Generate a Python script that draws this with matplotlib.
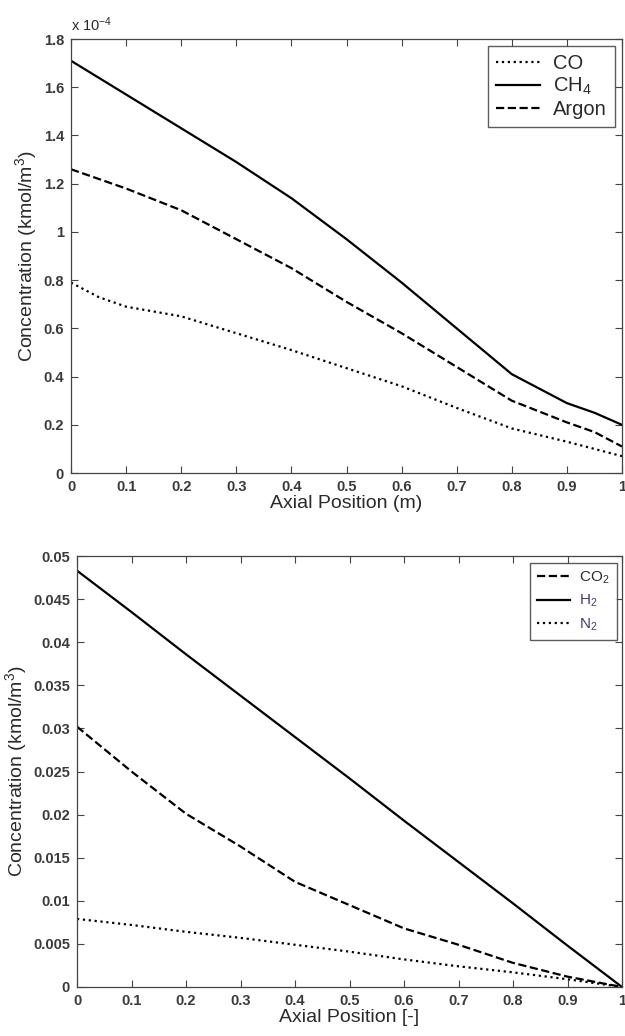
import numpy as np
import matplotlib.pyplot as plt
from matplotlib.ticker import FuncFormatter, MultipleLocator

plt.rcParams['font.family'] = ['Liberation Sans', 'DejaVu Sans']
plt.rcParams['mathtext.fontset'] = 'custom'
plt.rcParams['mathtext.rm'] = 'Liberation Sans'
plt.rcParams['mathtext.it'] = 'Liberation Sans'

# axial positions (m) for the reactor profiles
z_top = [0, 0.05, 0.1, 0.2, 0.3, 0.4, 0.5, 0.6, 0.7, 0.8, 0.9, 0.95, 1.0]
co = [0.79e-4, 0.73e-4, 0.69e-4, 0.65e-4, 0.58e-4, 0.51e-4, 0.435e-4,
      0.36e-4, 0.27e-4, 0.185e-4, 0.13e-4, 0.10e-4, 0.07e-4]
ch4 = [1.71e-4, 1.64e-4, 1.57e-4, 1.43e-4, 1.29e-4, 1.14e-4, 0.97e-4,
       0.79e-4, 0.60e-4, 0.41e-4, 0.29e-4, 0.25e-4, 0.20e-4]
argon = [1.26e-4, 1.22e-4, 1.18e-4, 1.09e-4, 0.97e-4, 0.85e-4, 0.71e-4,
         0.58e-4, 0.44e-4, 0.30e-4, 0.21e-4, 0.17e-4, 0.11e-4]

# dimensionless axial position
z_bot = [0, 0.1, 0.2, 0.3, 0.4, 0.5, 0.6, 0.7, 0.8, 0.9, 1.0]
co2 = [0.0302, 0.0250, 0.0201, 0.0163, 0.0122, 0.0095, 0.0068, 0.0049, 0.0028, 0.0012, 0.0]
h2 = [0.0483, 0.0435, 0.0386, 0.0338, 0.0290, 0.0242, 0.0193, 0.0145, 0.0097, 0.0048, 0.0]
n2 = [0.0079, 0.0072, 0.0064, 0.0057, 0.0049, 0.0041, 0.0032, 0.0024, 0.0017, 0.0009, 0.0]

txt = '#2a2a2a'
tick_txt = '#3a3a3a'
fig = plt.figure(figsize=(6.25, 10.36), dpi=100)
ax1 = fig.add_axes([0.1136, 0.5434, 0.8816, 0.4189])
ax2 = fig.add_axes([0.1232, 0.0473, 0.872, 0.416])


def matlab_style(ax):
    ax.tick_params(direction='in', top=True, right=True, length=5, width=0.8,
                   labelsize=10.5, labelcolor=tick_txt, color='#444444', pad=5)
    for lab in ax.get_xticklabels() + ax.get_yticklabels():
        lab.set_fontweight('bold')
    for s in ax.spines.values():
        s.set_color('#444444')
        s.set_linewidth(0.9)
    ax.xaxis.set_major_locator(MultipleLocator(0.1))
    ax.xaxis.set_major_formatter(FuncFormatter(lambda v, p: '%g' % round(v, 3)))
    ax.set_xlim(0, 1)


lw = 1.6
ax1.plot(z_top, co, ':', color='black', lw=lw, label='CO')
ax1.plot(z_top, ch4, '-', color='black', lw=lw, label='CH$_4$')
ax1.plot(z_top, argon, '--', color='black', lw=lw, label='Argon')
ax1.set_ylim(0, 1.8e-4)
ax1.yaxis.set_major_locator(MultipleLocator(0.2e-4))
ax1.yaxis.set_major_formatter(FuncFormatter(lambda v, p: '%g' % round(v / 1e-4, 3)))
matlab_style(ax1)
ax1.text(0.0, 1.012, 'x 10$^{-4}$', transform=ax1.transAxes, fontsize=10.5,
         color=txt, ha='left', va='bottom')
ax1.set_xlabel('Axial Position (m)', fontsize=14, color=txt, labelpad=1)
ax1.set_ylabel('Concentration (kmol/m$^3$)', fontsize=14, color=txt, labelpad=3)
leg1 = ax1.legend(loc='upper right', bbox_to_anchor=(0.987, 0.984), fontsize=14.5,
                  frameon=True, fancybox=False, edgecolor='#333333',
                  handlelength=2.2, borderaxespad=0, labelspacing=0.15,
                  handletextpad=0.65, borderpad=0.4)
leg1.get_frame().set_linewidth(1.0)
for t in leg1.get_texts():
    t.set_color(txt)

ax2.plot(z_bot, co2, '--', color='black', lw=lw, label='CO$_2$')
ax2.plot(z_bot, h2, '-', color='black', lw=lw, label='H$_2$')
ax2.plot(z_bot, n2, ':', color='black', lw=lw, label='N$_2$')
ax2.set_ylim(0, 0.05)
ax2.yaxis.set_major_locator(MultipleLocator(0.005))
ax2.yaxis.set_major_formatter(FuncFormatter(lambda v, p: '%g' % round(v, 4)))
matlab_style(ax2)
ax2.set_xlabel('Axial Position [-]', fontsize=14, color=txt, labelpad=1)
ax2.set_ylabel('Concentration (kmol/m$^3$)', fontsize=14, color=txt, labelpad=3)
leg2 = ax2.legend(loc='upper right', bbox_to_anchor=(0.990, 0.984), fontsize=11,
                  frameon=True, fancybox=False, edgecolor='#333333',
                  handlelength=2.2, borderaxespad=0, labelspacing=0.45,
                  handletextpad=0.6, borderpad=0.45)
leg2.get_frame().set_linewidth(1.0)
for t, c in zip(leg2.get_texts(), [txt, '#4a3a6e', '#4a3a6e']):
    t.set_color(c)

fig.savefig('out.png', dpi=100)
